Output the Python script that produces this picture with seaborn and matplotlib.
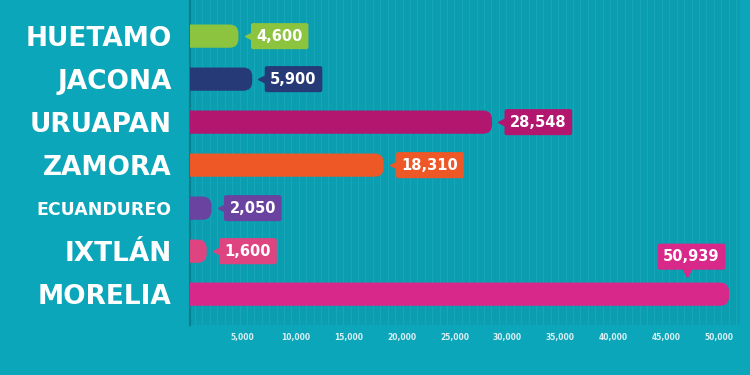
import matplotlib
matplotlib.use('Agg')
import matplotlib.pyplot as plt
import matplotlib.transforms as mtransforms
from matplotlib.patches import FancyBboxPatch
import seaborn as sns
import numpy as np

# datos
municipios = ['HUETAMO', 'JACONA', 'URUAPAN', 'ZAMORA', 'ECUANDUREO', 'IXTLÁN', 'MORELIA']
valores = [4600, 5900, 28548, 18310, 2050, 1600, 50939]
colores = ['#8CC43F', '#263A78', '#B3166E', '#EE5726', '#6A43A0', '#DE4580', '#D82889']
ticks_x = [5000, 10000, 15000, 20000, 25000, 30000, 35000, 40000, 45000, 50000]

fondo = '#0BA6B9'

sns.set_style('white')
plt.rcParams['font.family'] = ['DejaVu Sans']

fig = plt.figure(figsize=(7.5, 3.75), dpi=100, facecolor=fondo)
ax = fig.add_axes([0.253, 0.133, 0.734, 0.867])
ax.set_facecolor('#0A9EB0')

sns.barplot(x=valores, y=municipios, hue=municipios, palette=colores, legend=False,
            orient='h', width=0.54, ax=ax, saturation=1)

ax.set_xlim(0, 52000)
ax.set_ylim(6.72, -0.84)

# rayas verticales del fondo
for xv in np.arange(500, 52000, 700):
    ax.axvline(xv, color='#35B8C8', lw=0.5, alpha=0.45, zorder=0)

# barras con punta redondeada
fig.canvas.draw()
p0 = ax.transData.transform((0, 0))
p1 = ax.transData.transform((1, 1))
ux = 1 / abs(p1[0] - p0[0])   # unidades x por pixel
uy = 1 / abs(p1[1] - p0[1])   # unidades y por pixel
r_px = 9
for patch, col in zip(list(ax.patches), colores):
    x, y = patch.get_x(), patch.get_y()
    w, h = patch.get_width(), patch.get_height()
    patch.remove()
    fb = FancyBboxPatch((x - 3000, y), w + 3000, h,
                        boxstyle=f'round,pad=0,rounding_size={r_px * ux}',
                        mutation_aspect=uy / ux, facecolor=col, edgecolor='none', zorder=3)
    ax.add_patch(fb)

# etiquetas de valores
caja = dict(boxstyle='round,pad=0.38,rounding_size=0.15', ec='none')
for i, (v, col) in enumerate(zip(valores, colores)):
    txt = f'{v:,}'
    if municipios[i] == 'MORELIA':
        ax.annotate(txt, (v, i), xytext=(-27, 27), textcoords='offset points',
                    ha='center', va='center', color='white', fontsize=10.5, fontweight='bold',
                    bbox=dict(caja, fc=col), zorder=5)
        tr = mtransforms.offset_copy(ax.transData, fig=fig, x=-30, y=16, units='points')
        ax.plot([v], [i], marker='v', ms=7, color=col, transform=tr, zorder=5, clip_on=False)
    else:
        ax.annotate(txt, (v, i), xytext=(13, 0), textcoords='offset points',
                    ha='left', va='center', color='white', fontsize=10.5, fontweight='bold',
                    bbox=dict(caja, fc=col), zorder=5)
        tr = mtransforms.offset_copy(ax.transData, fig=fig, x=8, y=0, units='points')
        ax.plot([v], [i], marker='<', ms=7, color=col, transform=tr, zorder=5, clip_on=False)

# ejes
ax.set_xticks(ticks_x)
ax.set_xticklabels([f'{t:,}' for t in ticks_x], fontsize=5.5, color='#D8F0F4', fontweight='bold')
ax.tick_params(axis='x', length=0, pad=6)
ax.tick_params(axis='y', length=0, pad=13)
for lbl in ax.get_yticklabels():
    lbl.set_color('white')
    lbl.set_fontweight('heavy')
    lbl.set_fontsize(12.5 if lbl.get_text() == 'ECUANDUREO' else 19)
ax.set_xlabel('')
ax.set_ylabel('')
for s in ['top', 'right', 'bottom']:
    ax.spines[s].set_visible(False)
ax.spines['left'].set_color('#077F8E')
ax.spines['left'].set_linewidth(1.5)

fig.savefig('out.png', dpi=100, facecolor=fondo)
